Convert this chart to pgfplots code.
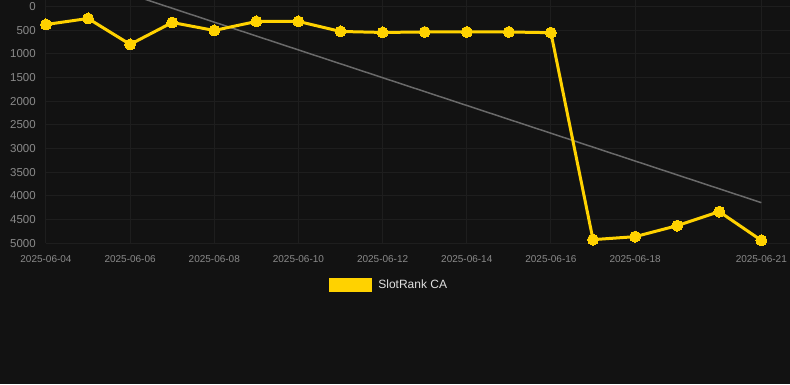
\documentclass[border=0pt]{standalone}
\usepackage{pgfplots}
\pgfplotsset{compat=1.18}
\usepackage{fontspec}
\setmainfont{Liberation Sans}
\definecolor{bg}{HTML}{121212}
\definecolor{gridc}{HTML}{1E1E1E}
\definecolor{tickc}{HTML}{8A8A8A}
\definecolor{gold}{HTML}{FFD200}
\definecolor{trend}{HTML}{6A6A6A}
\definecolor{legc}{HTML}{E0E0E0}
\begin{document}
\begin{tikzpicture}[x=1pt,y=1pt]
\fill[bg] (0,0) rectangle (790,384);
\begin{axis}[
  at={(46pt,141pt)}, anchor=south west, scale only axis,
  width=744pt, height=243pt,
  xmin=4, xmax=21.67, ymin=-126.6, ymax=5000, y dir=reverse,
  axis line style={draw=none},
  major tick length=0pt,
  grid=major, grid style={gridc, line width=1pt},
  xtick={4,6,8,10,12,14,16,18,21},
  xticklabels={2025-06-04,2025-06-06,2025-06-08,2025-06-10,2025-06-12,2025-06-14,2025-06-16,2025-06-18,2025-06-21},
  ytick={0,500,1000,1500,2000,2500,3000,3500,4000,4500,5000},
  yticklabels={0,500,1000,1500,2000,2500,3000,3500,4000,4500,5000},
  xticklabel style={font=\fontsize{10}{12}\selectfont, text=tickc, inner sep=0pt, anchor=north, yshift=-12pt},
  yticklabel style={font=\fontsize{11.5}{13}\selectfont, text=tickc, inner sep=0pt, anchor=east, xshift=-10pt},
  legend style={draw=none, fill=none, text=legc, font=\fontsize{12}{14}\selectfont,
    at={(0.4617,-0.1700)}, anchor=center, inner sep=0pt},
  legend image code/.code={\fill[gold] (0pt,-5.5pt) rectangle (40pt,5.5pt); \path (44pt,0pt);},
]
\addplot[trend, line width=1.5pt, forget plot] coordinates {(4,-842) (21,4141)};
\addplot[gold, line width=3pt, mark=*, mark size=5.5pt, mark options={fill=gold, draw=gold, line width=0pt}] coordinates {
(4,380) (5,253) (6,800) (7,338) (8,506) (9,316) (10,316) (11,527) (12,548)
(13,538) (14,538) (15,538) (16,553) (17,4922) (18,4859) (19,4627) (20,4331) (21,4937)
};
\addlegendentry{SlotRank CA}
\end{axis}
\end{tikzpicture}
\end{document}
